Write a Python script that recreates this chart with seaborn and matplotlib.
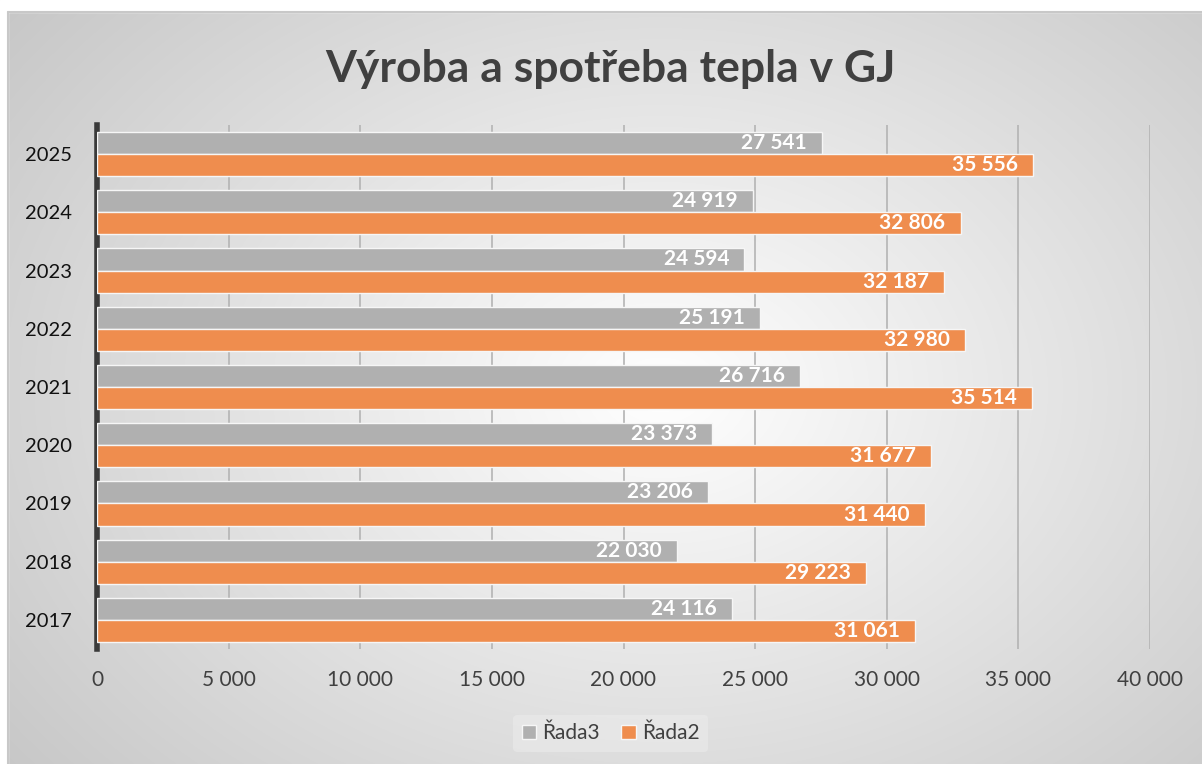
import numpy as np
import pandas as pd
import matplotlib.pyplot as plt
import seaborn as sns
from matplotlib.patches import Rectangle

years = ["2025", "2024", "2023", "2022", "2021", "2020", "2019", "2018", "2017"]
rada3 = [27541, 24919, 24594, 25191, 26716, 23373, 23206, 22030, 24116]
rada2 = [35556, 32806, 32187, 32980, 35514, 31677, 31440, 29223, 31061]
series_names = ["Řada3", "Řada2"]
x_ticks = [0, 5000, 10000, 15000, 20000, 25000, 30000, 35000, 40000]
title = "Výroba a spotřeba tepla v GJ"

colors = {"Řada3": "#b0b0b0", "Řada2": "#ef8d4e"}

df = pd.DataFrame({
    "rok": years * 2,
    "rada": ["Řada3"] * len(years) + ["Řada2"] * len(years),
    "hodnota": rada3 + rada2,
})

sns.set_theme(style="white")
plt.rcParams["font.family"] = ["Lato", "DejaVu Sans"]

fig = plt.figure(figsize=(12.02, 7.64), dpi=100)

# radial gradient background of the chart area
bg = fig.add_axes([0, 0, 1, 1], zorder=-10)
yy, xx = np.mgrid[0:764, 0:1202]
r = np.sqrt(((xx - 660) / 760.0) ** 2 + ((yy - 390) / 560.0) ** 2)
shade = 1.0 - 0.24 * np.clip(r, 0, 1.2) / 1.2
img = np.dstack([shade, shade, shade])
bg.imshow(img, extent=[0, 1202, 764, 0], aspect="auto")
bg.add_patch(Rectangle((0, 0), 1202, 12, color="white"))
bg.add_patch(Rectangle((0, 0), 8, 764, color="white"))
bg.plot([8, 1202], [12, 12], color="#c8c8c8", lw=1.5)
bg.plot([8, 8], [12, 764], color="#c8c8c8", lw=1.5)
bg.set_xlim(0, 1202)
bg.set_ylim(764, 0)
bg.axis("off")

ax = fig.add_axes([97 / 1202, (764 - 649) / 764, (1150 - 97) / 1202, (649 - 125) / 764])
ax.set_facecolor("none")

sns.barplot(data=df, y="rok", x="hodnota", hue="rada", order=years,
            hue_order=series_names, palette=colors, orient="h", width=0.76,
            saturation=1, edgecolor="#f6f6f6", linewidth=1.0, ax=ax, zorder=3)

for container in ax.containers:
    labels = [f"{int(v):,}".replace(",", " ") for v in container.datavalues]
    ax.bar_label(container, labels=labels, padding=-11, color="white",
                 fontsize=15, fontweight="bold")
for t in ax.texts:
    t.set_ha("right")

ax.set_xlim(0, 40000)
ax.set_ylim(len(years) - 0.5, -0.5)
ax.set_xticks(x_ticks)
ax.set_xticklabels([f"{v:,}".replace(",", " ") for v in x_ticks])
ax.xaxis.grid(True, color="#b4b4b4", lw=1.2, zorder=0)
ax.yaxis.grid(False)
ax.tick_params(axis="x", length=0, pad=15, labelsize=15, labelcolor="#404040")
ax.tick_params(axis="y", length=0, pad=18, labelsize=14.5, labelcolor="#111111")
for s in ["top", "right", "bottom"]:
    ax.spines[s].set_visible(False)
ax.spines["left"].set_color("#3a3a3a")
ax.spines["left"].set_linewidth(4)
ax.set_xlabel("")
ax.set_ylabel("")

handles, labels = ax.get_legend_handles_labels()
ax.legend(handles, labels, loc="center", bbox_to_anchor=(0.508, 0.04),
          bbox_transform=fig.transFigure, ncol=2, frameon=True,
          facecolor="#f4f4f4", framealpha=0.35, edgecolor="none",
          fontsize=15, labelcolor="#404040", handlelength=0.7, handleheight=0.7,
          handletextpad=0.3, columnspacing=1.0)

fig.text(0.508, 0.91, title, ha="center", va="center", fontsize=32,
         fontweight="bold", color="#404040")

fig.savefig("out.png", dpi=100)
